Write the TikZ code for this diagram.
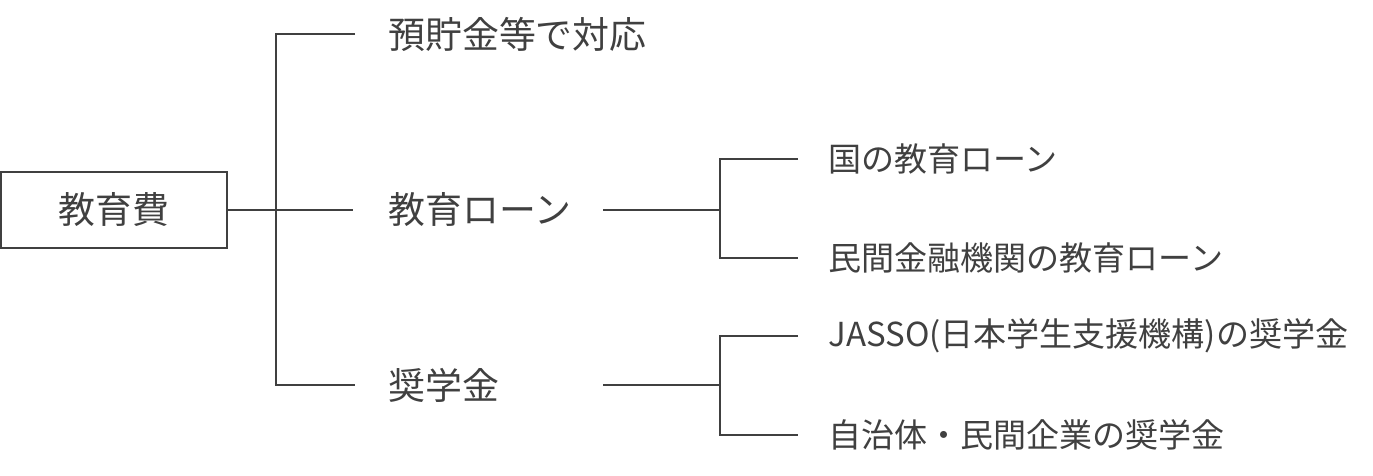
\documentclass[tikz,border=0pt]{standalone}
\usepackage{fontspec}
\setmainfont{Noto Sans CJK JP}
\definecolor{ink}{HTML}{404040}
\begin{document}
\begin{tikzpicture}[x=0.02cm,y=-0.02cm,
  big/.style={anchor=west, inner sep=0pt, text=ink, font=\fontsize{21}{21}\selectfont},
  sml/.style={anchor=west, inner sep=0pt, text=ink, font=\fontsize{18.8}{19}\selectfont},
  link/.style={draw=ink, line width=0.04cm, line join=miter}]
\useasboundingbox (0,0) rectangle (1373,476);
\node[draw=ink, line width=0.04cm, minimum width=4.52cm, minimum height=1.54cm, inner sep=0pt, text=ink, font=\fontsize{21}{21}\selectfont] (root) at (114,210) {教育費};
\node[big] (a) at (388,34) {預貯金等で対応};
\node[big] (b) at (388,210) {教育ローン};
\node[big] (c) at (388,385) {奨学金};
\node[sml] (b1) at (828,159) {国の教育ローン};
\node[sml] (b2) at (828,258) {民間金融機関の教育ローン};
\node[sml] (c1) at (828,336) {JASSO(日本学生支援機構)の奨学金};
\node[sml] (c2) at (828,435) {自治体・民間企業の奨学金};
\coordinate (j0) at (276,210);
\coordinate (jb) at (720,210);
\coordinate (jc) at (720,385);
\coordinate (bs) at (603,210);
\coordinate (cs) at (603,385);
% first level
\draw[link] ([xshift=-0.66cm]a.west) -- (j0 |- a.west) -- (j0 |- c.west) -- ([xshift=-0.66cm]c.west);
\draw[link] (root.east) -- ([xshift=-0.7cm]b.west);
% second level: loans
\draw[link] (bs) -- (jb);
\draw[link] ([xshift=-0.6cm]b1.west) -- (jb |- b1.west) -- (jb |- b2.west) -- ([xshift=-0.6cm]b2.west);
% second level: scholarships
\draw[link] (cs) -- (jc);
\draw[link] ([xshift=-0.6cm]c1.west) -- (jc |- c1.west) -- (jc |- c2.west) -- ([xshift=-0.6cm]c2.west);
\end{tikzpicture}
\end{document}
